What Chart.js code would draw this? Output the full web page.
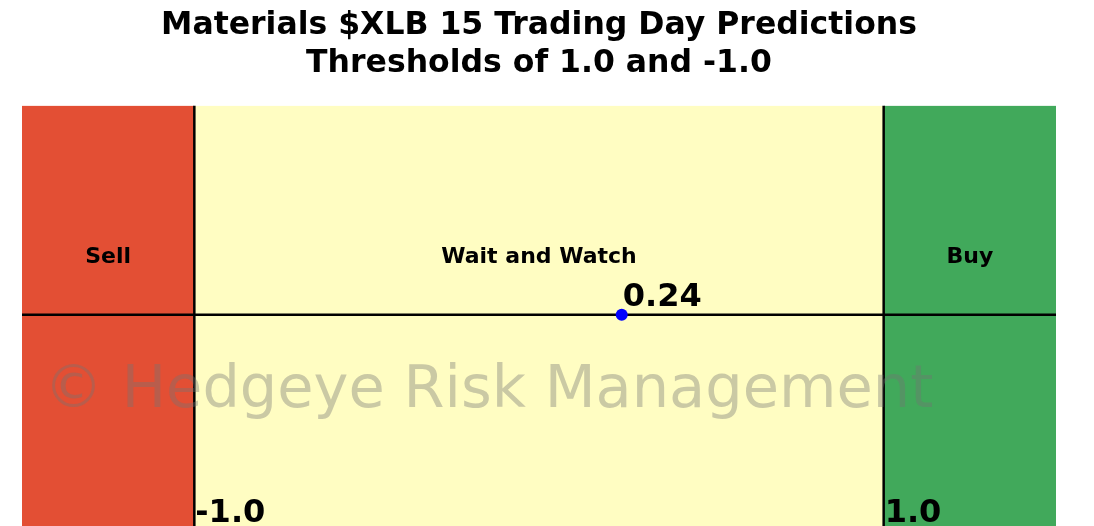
<!DOCTYPE html>
<html>
<head>
<meta charset="utf-8">
<script src="https://cdn.jsdelivr.net/npm/chart.js@4.4.1/dist/chart.umd.min.js"></script>
<style>
html,body{margin:0;padding:0;background:#fff;}
#wrap{width:1094px;height:526px;}
</style>
</head>
<body>
<div id="wrap"><canvas id="c" width="1094" height="526"></canvas></div>
<script>
const titleLines = ["Materials $XLB 15 Trading Day Predictions", "Thresholds of 1.0 and -1.0"];
const zoneNames = ["Sell", "Wait and Watch", "Buy"];
const zoneEdges = [-1.5, -1.0, 1.0, 1.5];
const zoneColors = ["#E34F34", "#FFFDC2", "#41A95B"];
const thresholds = [-1.0, 1.0];
const thresholdLabels = ["-1.0", "1.0"];
const prediction = 0.24;
const predictionLabel = "0.24";
const xRange = [-1.5, 1.5];
const yRange = [-1.01, 1.0];
const watermark = "\u00A9 Hedgeye Risk Management";

const datasets = [];
zoneNames.forEach((n, i) => {
  datasets.push({
    label: n,
    data: [{x: zoneEdges[i], y: yRange[1]}, {x: zoneEdges[i+1], y: yRange[1]}],
    showLine: true, borderWidth: 0, pointRadius: 0, fill: 'start',
    backgroundColor: zoneColors[i], borderColor: 'rgba(0,0,0,0)', order: 10
  });
});
thresholds.forEach(t => {
  datasets.push({
    data: [{x: t, y: yRange[0]}, {x: t, y: yRange[1]}],
    showLine: true, borderColor: '#000', borderWidth: 2.5, pointRadius: 0, fill: false, order: 5
  });
});
datasets.push({
  data: [{x: xRange[0], y: 0}, {x: xRange[1], y: 0}],
  showLine: true, borderColor: '#000', borderWidth: 2.5, pointRadius: 0, fill: false, order: 4
});
datasets.push({
  data: [{x: prediction, y: 0}],
  showLine: false, pointRadius: 6, pointBackgroundColor: '#0000FF',
  pointBorderColor: '#0000FF', borderWidth: 0, order: 1
});

const textPlugin = {
  id: 'texts',
  afterDatasetsDraw(chart) {
    const ctx = chart.ctx, xs = chart.scales.x, ys = chart.scales.y;
    ctx.save();
    ctx.fillStyle = '#000';
    ctx.font = 'bold 22px "DejaVu Sans"';
    ctx.textAlign = 'center';
    ctx.textBaseline = 'middle';
    zoneNames.forEach((n, i) => {
      const cx = xs.getPixelForValue((zoneEdges[i] + zoneEdges[i+1]) / 2);
      ctx.fillText(n, cx, ys.getPixelForValue(0.277));
    });
    ctx.font = 'bold 32px "DejaVu Sans"';
    ctx.textAlign = 'left';
    ctx.textBaseline = 'alphabetic';
    ctx.fillText(predictionLabel, xs.getPixelForValue(prediction) + 1, ys.getPixelForValue(0) - 9);
    thresholds.forEach((t, i) => {
      ctx.fillText(thresholdLabels[i], xs.getPixelForValue(t) + 1, ys.getPixelForValue(-0.99));
    });
    ctx.font = '59px "DejaVu Sans"';
    ctx.fillStyle = 'rgba(115,115,115,0.38)';
    ctx.textAlign = 'left';
    ctx.textBaseline = 'alphabetic';
    ctx.fillText(watermark, 44, ys.getPixelForValue(-0.44));
    ctx.restore();
  }
};

new Chart(document.getElementById('c'), {
  type: 'scatter',
  data: {datasets},
  options: {
    responsive: false, animation: false,
    layout: {autoPadding: false, padding: {left: 22, right: 38, top: 0, bottom: 0}},
    scales: {
      x: {type: 'linear', display: false, min: xRange[0], max: xRange[1]},
      y: {type: 'linear', display: false, min: yRange[0], max: yRange[1]}
    },
    plugins: {
      legend: {display: false},
      tooltip: {enabled: false},
      title: {
        display: true, text: titleLines, color: '#000',
        font: {family: 'DejaVu Sans', weight: 'bold', size: 31.5, lineHeight: 1.2},
        padding: {top: 7, bottom: 23}
      }
    }
  },
  plugins: [textPlugin]
});
</script>
</body>
</html>
